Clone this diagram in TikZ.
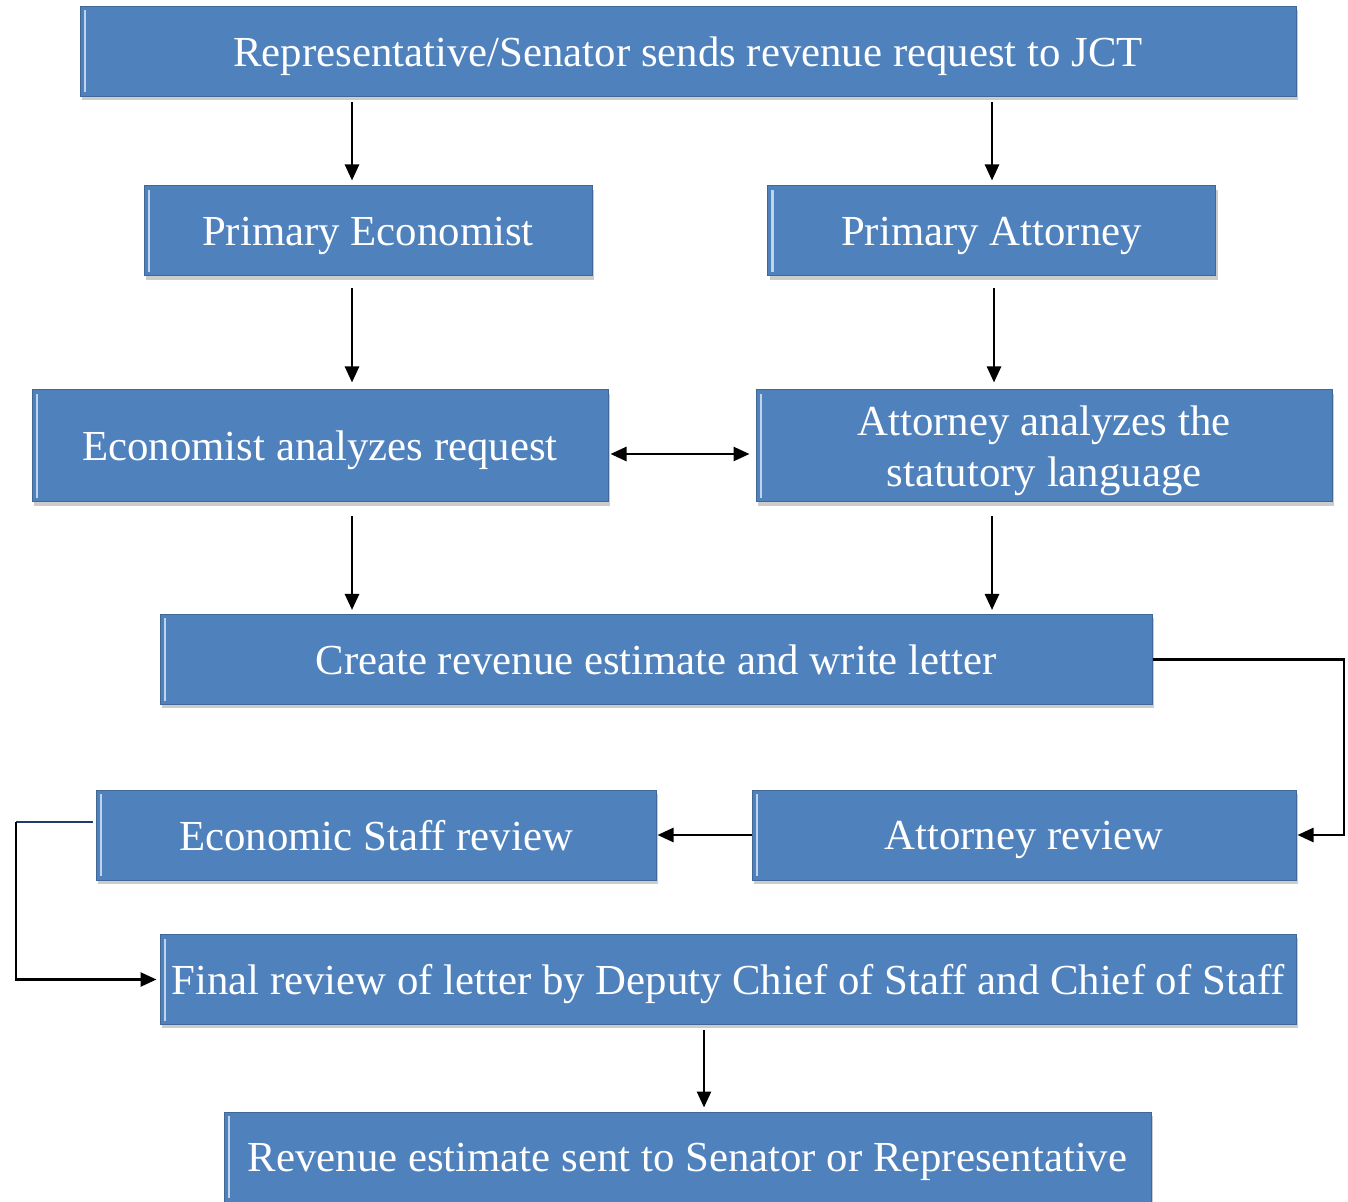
\documentclass[tikz,border=0pt]{standalone}
\usepackage{fontspec}
\setmainfont{Liberation Serif}
\usepackage{tikz}
\usetikzlibrary{arrows.meta}
\usetikzlibrary{shadows}
\definecolor{boxblue}{HTML}{4F81BD}
\definecolor{linkblue}{HTML}{1F3A6E}

\begin{document}
\begin{tikzpicture}[x=0.5pt,y=-0.5pt,>={Triangle[length=8pt,width=7pt]},
		box/.style={rectangle,fill=boxblue,draw=boxblue!80!black,line width=0.5pt,
			text=white,font=\fontsize{21.4}{25.5}\selectfont,align=center,
			minimum height=45pt,inner sep=2pt,text depth=0pt,
			drop shadow={opacity=0.4,shadow xshift=1.2pt,shadow yshift=-1.8pt},
			path picture={\draw[boxblue!35!white,line width=1.2pt]
				([xshift=2.5pt,yshift=2pt]path picture bounding box.south west) --
				([xshift=2.5pt,yshift=-2pt]path picture bounding box.north west);}},
		link/.style={line width=1.3pt,black}]
		\useasboundingbox (0,0) rectangle (1348,1202);

		\node[box,minimum width=608pt] (top)     at (688,51.5)   {Representative/Senator sends revenue request to JCT};
		\node[box,minimum width=224pt] (econ)    at (368,231)    {Primary Economist};
		\node[box,minimum width=224pt] (atty)    at (991.5,231)  {Primary Attorney};
		\node[box,minimum width=288pt,minimum height=56pt] (econan) at (320,446) {Economist analyzes request};
		\node[box,minimum width=288pt,minimum height=56pt] (attyan) at (1044,446) {Attorney analyzes the\\statutory language};
		\node[box,minimum width=496pt] (est)     at (656,659.5)  {Create revenue estimate and write letter};
		\node[box,minimum width=280pt] (econrev) at (376,835)    {Economic Staff review};
		\node[box,minimum width=272pt] (attyrev) at (1024,835)   {Attorney review};
		\node[box,minimum width=568pt] (final)   at (728,979.5)  {Final review of letter by Deputy Chief of Staff and Chief of Staff};
		\node[box,minimum width=463.5pt] (sent)  at (687.5,1157) {Revenue estimate sent to Senator or Representative};

		\coordinate (ecol) at (352,0);
		\coordinate (acol) at (992,0);
		\coordinate (acol2) at (994,0);
		\coordinate (mcol) at (704,0);
		\coordinate (rcol) at (1344,0);
		\coordinate (lcol) at (16,822);

		\draw[link,->,shorten <=2.5pt,shorten >=2.5pt] (top.south -| ecol) -- (econ.north -| ecol);
		\draw[link,->,shorten <=2.5pt,shorten >=2.5pt] (top.south -| acol) -- (atty.north -| acol);
		\draw[link,->,shorten <=6pt,shorten >=3.5pt] (econ.south -| ecol) -- (econan.north -| ecol);
		\draw[link,->,shorten <=6pt,shorten >=3.5pt] (atty.south -| acol2) -- (attyan.north -| acol2);
		\draw[link,<->,shorten <=1pt,shorten >=3pt] ([yshift=-4pt]econan.east) -- ([yshift=-4pt]attyan.west);
		\draw[link,->,shorten <=7pt,shorten >=2pt] (econan.south -| ecol) -- (est.north -| ecol);
		\draw[link,->,shorten <=7pt,shorten >=2pt] (attyan.south -| acol) -- (est.north -| acol);
		\draw[link,->,shorten >=0.5pt] (est.east) -| (rcol |- attyrev.east) -- (attyrev.east);
		\draw[link,->,shorten >=0.5pt] (attyrev.west) -- (econrev.east);
		\draw[linkblue,line width=1pt,shorten <=1.5pt] ([yshift=6.5pt]econrev.west) -- (lcol);
		\draw[link,->,shorten >=1.5pt] (lcol) |- (final.west);
		\draw[link,->,shorten <=2.5pt,shorten >=2pt] (final.south -| mcol) -- (sent.north -| mcol);
\end{tikzpicture}
\end{document}
